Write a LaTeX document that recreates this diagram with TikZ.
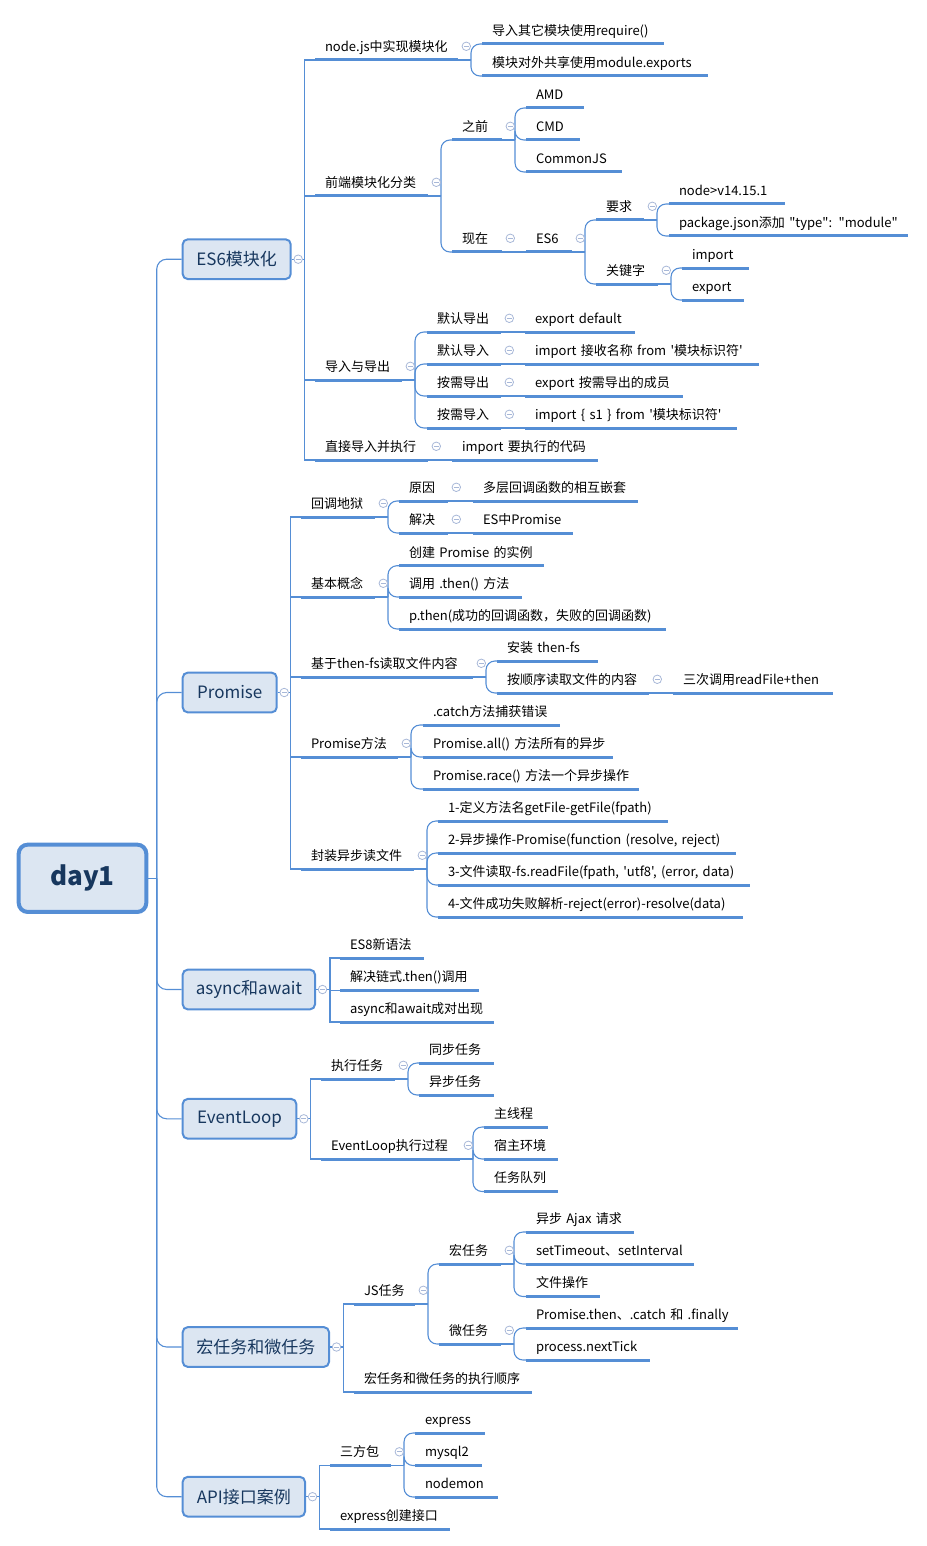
\documentclass[tikz,border=0pt]{standalone}
\usepackage{fontspec}
\setmainfont{Noto Sans CJK SC}[Ligatures=TeXOff]
\usepackage{tikz}
\definecolor{lineBlue}{RGB}{85,142,213}
\definecolor{boxFill}{RGB}{220,230,242}
\definecolor{boxText}{RGB}{23,55,94}
\definecolor{foldGray}{RGB}{168,184,216}

\begin{document}
\begin{tikzpicture}[
    x=1pt, y=-1pt,
    daybox/.style={
        rectangle,
        rounded corners=9pt,
        draw=lineBlue,
        line width=4pt,
        fill=boxFill,
        text=boxText,
        minimum width=127.6pt,
        minimum height=67.3pt,
        font=\fontsize{26}{30}\selectfont\bfseries
    },
    hub/.style={
        rectangle,
        rounded corners=5pt,
        draw=lineBlue,
        line width=2pt,
        fill=boxFill,
        text=boxText,
        anchor=west,
        minimum width=#1,
        minimum height=39.7pt,
        font=\fontsize{17}{20}\selectfont
    },
    tw/.code={\pgfmathsetmacro\topicwidth{#1-20}\tikzset{text width=\topicwidth pt}},
    topic/.style={
        anchor=south west,
        inner xsep=10pt,
        inner ysep=5pt,
        outer sep=0pt,
        text height=10pt,
        text depth=3.6pt,
        align=left,
        text=black,
        tw=#1,
        font=\fontsize{13}{15}\selectfont,
        execute at begin node={\hbox\bgroup},
        execute at end node={\egroup},
        append after command={(\tikzlastnode.south west) edge[uline] (\tikzlastnode.south east)}
    },
    uline/.style={draw=lineBlue, line width=3pt},
    wire/.style={draw=lineBlue, line width=1.1pt},
    twig/.style={wire, rounded corners=9pt},
    trunk/.style={wire, rounded corners=10pt},
    knob/.style={
        circle,
        draw=foldGray,
        fill=white,
        line width=0.8pt,
        minimum size=8.5pt,
        inner sep=0pt,
        path picture={\draw[foldGray, line width=0.8pt]
            ([xshift=-2.4pt]path picture bounding box.center) --
            ([xshift=2.4pt]path picture bounding box.center);}
    }
]
\useasboundingbox (0,0) rectangle (926,1546);

% root and main branches
\node[daybox] (day) at (82.5,878.3) {day1};
\node[hub=108pt] (es6) at (181.7,259.2) {ES6模块化};
\node[hub=94pt] (prom) at (181.7,692.5) {Promise};
\node[hub=132.3pt] (async) at (181.7,989.5) {async和await};
\node[hub=113.6pt] (loop) at (181.7,1118.8) {EventLoop};
\node[hub=146.3pt] (task) at (181.7,1347) {宏任务和微任务};
\node[hub=122.3pt] (api) at (181.7,1496.7) {API接口案例};

% ES6模块化
\node[topic=143] (n1) at (315,60) {node.js中实现模块化};
\node[topic=182] (n1a) at (482,44) {导入其它模块使用require()};
\node[topic=226] (n1b) at (482,76) {模块对外共享使用module.exports};
\node[topic=113] (n2) at (315,196) {前端模块化分类};
\node[topic=50] (n2a) at (452,140) {之前};
\node[topic=58] (n2a1) at (526,108) {AMD};
\node[topic=54] (n2a2) at (526,140) {CMD};
\node[topic=96] (n2a3) at (526,172) {CommonJS};
\node[topic=50] (n2b) at (452,252) {现在};
\node[topic=46] (n2b1) at (526,252) {ES6};
\node[topic=48] (need) at (596,220) {要求};
\node[topic=116] (need1) at (669,204) {node>v14.15.1};
\node[topic=239] (need2) at (669,236) {package.json添加 "type": "module"};
\node[topic=62] (kw) at (596,284) {关键字};
\node[topic=67] (kw1) at (682,268) {import};
\node[topic=62] (kw2) at (682,300) {export};
\node[topic=87] (n3) at (315,380) {导入与导出};
\node[topic=74] (n3a) at (427,332) {默认导出};
\node[topic=110] (n3a1) at (525,332) {export default};
\node[topic=74] (n3b) at (427,364) {默认导入};
\node[topic=234] (n3b1) at (525,364) {import 接收名称 from '模块标识符'};
\node[topic=74] (n3c) at (427,396) {按需导出};
\node[topic=158] (n3c1) at (525,396) {export 按需导出的成员};
\node[topic=74] (n3d) at (427,428) {按需导入};
\node[topic=212] (n3d1) at (525,428) {import \{ s1 \} from '模块标识符'};
\node[topic=113] (n4) at (315,460) {直接导入并执行};
\node[topic=146] (n4a) at (452,460) {import 要执行的代码};

% Promise
\node[topic=74] (p1) at (301,517) {回调地狱};
\node[topic=49] (p1a) at (399,501) {原因};
\node[topic=165] (p1a1) at (473,501) {多层回调函数的相互嵌套};
\node[topic=49] (p1b) at (399,533) {解决};
\node[topic=100] (p1b1) at (473,533) {ES中Promise};
\node[topic=74] (p2) at (301,597) {基本概念};
\node[topic=145] (p2a) at (399,565.7) {创建 Promise 的实例};
\node[topic=123] (p2b) at (399,597) {调用 .then() 方法};
\node[topic=267] (p2c) at (399,629) {p.then(成功的回调函数，失败的回调函数)};
\node[topic=172] (p3) at (301,677) {基于then-fs读取文件内容};
\node[topic=101] (p3a) at (497,661) {安装 then-fs};
\node[topic=152] (p3b) at (497,693) {按顺序读取文件的内容};
\node[topic=160] (p3b1) at (673,693) {三次调用readFile+then};
\node[topic=97] (p4) at (301,757) {Promise方法};
\node[topic=137] (p4a) at (423,725) {.catch方法捕获错误};
\node[topic=190] (p4b) at (423,757) {Promise.all() 方法所有的异步};
\node[topic=216] (p4c) at (423,789) {Promise.race() 方法一个异步操作};
\node[topic=113] (p5) at (301,869) {封装异步读文件};
\node[topic=230] (p5a) at (438,821) {1-定义方法名getFile-getFile(fpath)};
\node[topic=298] (p5b) at (438,853) {2-异步操作-Promise(function (resolve, reject)};
\node[topic=312] (p5c) at (438,885) {3-文件读取-fs.readFile(fpath, 'utf8', (error, data)};
\node[topic=305] (p5d) at (438,917) {4-文件成功失败解析-reject(error)-resolve(data)};

% async和await
\node[topic=84] (a1) at (340,958) {ES8新语法};
\node[topic=139] (a2) at (340,990.5) {解决链式.then()调用};
\node[topic=154] (a3) at (340,1022) {async和await成对出现};

% EventLoop
\node[topic=74] (e1) at (321,1079) {执行任务};
\node[topic=75] (e1a) at (419,1063) {同步任务};
\node[topic=75] (e1b) at (419,1095) {异步任务};
\node[topic=139] (e2) at (321,1159) {EventLoop执行过程};
\node[topic=64] (e2a) at (484,1127) {主线程};
\node[topic=74] (e2b) at (484,1159) {宿主环境};
\node[topic=74] (e2c) at (484,1191.5) {任务队列};

% 宏任务和微任务
\node[topic=61] (m1) at (354,1304) {JS任务};
\node[topic=62] (m1a) at (439,1264) {宏任务};
\node[topic=108] (m1a1) at (526,1232) {异步 Ajax 请求};
\node[topic=168] (m1a2) at (526,1264) {setTimeout、setInterval};
\node[topic=74] (m1a3) at (526,1296.5) {文件操作};
\node[topic=62] (m1b) at (439,1344) {微任务};
\node[topic=212] (m1b1) at (526,1328) {Promise.then、.catch 和 .finally};
\node[topic=124] (m1b2) at (526,1360) {process.nextTick};
\node[topic=178] (m2) at (354,1392) {宏任务和微任务的执行顺序};

% API接口案例
\node[topic=61] (i1) at (330,1465.5) {三方包};
\node[topic=70] (i1a) at (415,1433) {express};
\node[topic=67] (i1b) at (415,1465.5) {mysql2};
\node[topic=83] (i1c) at (415,1497) {nodemon};
\node[topic=120] (i2) at (330,1529) {express创建接口};

% root connectors
\coordinate (stem) at (156.7,878.3);
\draw[wire] (day.east) -- (stem);
\draw[trunk] (stem) |- (es6.west);
\draw[trunk] (stem) |- (prom.west);
\draw[trunk] (stem) |- (async.west);
\draw[trunk] (stem) |- (loop.west);
\draw[trunk] (stem) |- (task.west);
\draw[trunk] (stem) |- (api.west);

% ES6模块化 connectors
\draw[wire] (es6.east) -- ++(12.6,0) coordinate (es6-k);
\draw[wire] (es6-k) |- (n1.south west);
\draw[wire] (es6-k) |- (n2.south west);
\draw[wire] (es6-k) |- (n3.south west);
\draw[wire] (es6-k) |- (n4.south west);
\draw[wire] (n1.south east) -- ++(13,0) coordinate (n1-k);
\draw[twig] (n1-k) |- (n1a.south west);
\draw[twig] (n1-k) |- (n1b.south west);
\draw[wire] (n2.south east) -- ++(13,0) coordinate (n2-k);
\draw[twig] (n2-k) |- (n2a.south west);
\draw[twig] (n2-k) |- (n2b.south west);
\draw[wire] (n2a.south east) -- ++(13,0) coordinate (n2a-k);
\draw[twig] (n2a-k) |- (n2a1.south west);
\draw[twig] (n2a-k) |- (n2a2.south west);
\draw[twig] (n2a-k) |- (n2a3.south west);
\draw[wire] (n2b.south east) -- (n2b1.south west);
\draw[wire] (n2b1.south east) -- ++(13,0) coordinate (n2b1-k);
\draw[twig] (n2b1-k) |- (need.south west);
\draw[twig] (n2b1-k) |- (kw.south west);
\draw[wire] (need.south east) -- ++(13,0) coordinate (need-k);
\draw[twig] (need-k) |- (need1.south west);
\draw[twig] (need-k) |- (need2.south west);
\draw[wire] (kw.south east) -- ++(13,0) coordinate (kw-k);
\draw[twig] (kw-k) |- (kw1.south west);
\draw[twig] (kw-k) |- (kw2.south west);
\draw[wire] (n3.south east) -- ++(13,0) coordinate (n3-k);
\draw[twig] (n3-k) |- (n3a.south west);
\draw[twig] (n3-k) |- (n3b.south west);
\draw[twig] (n3-k) |- (n3c.south west);
\draw[twig] (n3-k) |- (n3d.south west);
\draw[wire] (n3a.south east) -- (n3a1.south west);
\draw[wire] (n3b.south east) -- (n3b1.south west);
\draw[wire] (n3c.south east) -- (n3c1.south west);
\draw[wire] (n3d.south east) -- (n3d1.south west);
\draw[wire] (n4.south east) -- (n4a.south west);

% Promise connectors
\draw[wire] (prom.east) -- ++(13,0) coordinate (prom-k);
\draw[wire] (prom-k) |- (p1.south west);
\draw[wire] (prom-k) |- (p2.south west);
\draw[wire] (prom-k) |- (p3.south west);
\draw[wire] (prom-k) |- (p4.south west);
\draw[wire] (prom-k) |- (p5.south west);
\draw[wire] (p1.south east) -- ++(13,0) coordinate (p1-k);
\draw[twig] (p1-k) |- (p1a.south west);
\draw[twig] (p1-k) |- (p1b.south west);
\draw[wire] (p1a.south east) -- (p1a1.south west);
\draw[wire] (p1b.south east) -- (p1b1.south west);
\draw[wire] (p2.south east) -- ++(13,0) coordinate (p2-k);
\draw[twig] (p2-k) |- (p2a.south west);
\draw[twig] (p2-k) |- (p2b.south west);
\draw[twig] (p2-k) |- (p2c.south west);
\draw[wire] (p3.south east) -- ++(13,0) coordinate (p3-k);
\draw[twig] (p3-k) |- (p3a.south west);
\draw[twig] (p3-k) |- (p3b.south west);
\draw[wire] (p3b.south east) -- (p3b1.south west);
\draw[wire] (p4.south east) -- ++(13,0) coordinate (p4-k);
\draw[twig] (p4-k) |- (p4a.south west);
\draw[twig] (p4-k) |- (p4b.south west);
\draw[twig] (p4-k) |- (p4c.south west);
\draw[wire] (p5.south east) -- ++(13,0) coordinate (p5-k);
\draw[twig] (p5-k) |- (p5a.south west);
\draw[twig] (p5-k) |- (p5b.south west);
\draw[twig] (p5-k) |- (p5c.south west);
\draw[twig] (p5-k) |- (p5d.south west);

% async和await connectors
\draw[wire] (async.east) -- ++(14,0) coordinate (async-k);
\draw[wire] (async-k) |- (a1.south west);
\draw[wire] (async-k) |- (a2.south west);
\draw[wire] (async-k) |- (a3.south west);

% EventLoop connectors
\draw[wire] (loop.east) -- ++(13.4,0) coordinate (loop-k);
\draw[wire] (loop-k) |- (e1.south west);
\draw[wire] (loop-k) |- (e2.south west);
\draw[wire] (e1.south east) -- ++(13,0) coordinate (e1-k);
\draw[twig] (e1-k) |- (e1a.south west);
\draw[twig] (e1-k) |- (e1b.south west);
\draw[wire] (e2.south east) -- ++(13,0) coordinate (e2-k);
\draw[twig] (e2-k) |- (e2a.south west);
\draw[twig] (e2-k) |- (e2b.south west);
\draw[twig] (e2-k) |- (e2c.south west);

% 宏任务和微任务 connectors
\draw[wire] (task.east) -- ++(13.3,0) coordinate (task-k);
\draw[wire] (task-k) |- (m1.south west);
\draw[wire] (task-k) |- (m2.south west);
\draw[wire] (m1.south east) -- ++(13,0) coordinate (m1-k);
\draw[twig] (m1-k) |- (m1a.south west);
\draw[twig] (m1-k) |- (m1b.south west);
\draw[wire] (m1a.south east) -- ++(13,0) coordinate (m1a-k);
\draw[twig] (m1a-k) |- (m1a1.south west);
\draw[twig] (m1a-k) |- (m1a2.south west);
\draw[twig] (m1a-k) |- (m1a3.south west);
\draw[wire] (m1b.south east) -- ++(13,0) coordinate (m1b-k);
\draw[twig] (m1b-k) |- (m1b1.south west);
\draw[twig] (m1b-k) |- (m1b2.south west);

% API接口案例 connectors
\draw[wire] (api.east) -- ++(13.3,0) coordinate (api-k);
\draw[wire] (api-k) |- (i1.south west);
\draw[wire] (api-k) |- (i2.south west);
\draw[wire] (i1.south east) -- ++(13,0) coordinate (i1-k);
\draw[twig] (i1-k) |- (i1a.south west);
\draw[twig] (i1-k) |- (i1b.south west);
\draw[twig] (i1-k) |- (i1c.south west);

% collapse marks
\node[knob] (es6-o) at ([xshift=6.5pt]es6.east) {};
\node[knob] (prom-o) at ([xshift=6.5pt]prom.east) {};
\node[knob] (async-o) at ([xshift=6.5pt]async.east) {};
\node[knob] (loop-o) at ([xshift=6.5pt]loop.east) {};
\node[knob] (task-o) at ([xshift=6.5pt]task.east) {};
\node[knob] (api-o) at ([xshift=6.5pt]api.east) {};
\node[knob] (n1-o) at ([shift={(8.3,-13.7)}]n1.south east) {};
\node[knob] (n2-o) at ([shift={(8.3,-13.7)}]n2.south east) {};
\node[knob] (n2a-o) at ([shift={(8.3,-13.7)}]n2a.south east) {};
\node[knob] (n2b-o) at ([shift={(8.3,-13.7)}]n2b.south east) {};
\node[knob] (n2b1-o) at ([shift={(8.3,-13.7)}]n2b1.south east) {};
\node[knob] (need-o) at ([shift={(8.3,-13.7)}]need.south east) {};
\node[knob] (kw-o) at ([shift={(8.3,-13.7)}]kw.south east) {};
\node[knob] (n3-o) at ([shift={(8.3,-13.7)}]n3.south east) {};
\node[knob] (n3a-o) at ([shift={(8.3,-13.7)}]n3a.south east) {};
\node[knob] (n3b-o) at ([shift={(8.3,-13.7)}]n3b.south east) {};
\node[knob] (n3c-o) at ([shift={(8.3,-13.7)}]n3c.south east) {};
\node[knob] (n3d-o) at ([shift={(8.3,-13.7)}]n3d.south east) {};
\node[knob] (n4-o) at ([shift={(8.3,-13.7)}]n4.south east) {};
\node[knob] (p1-o) at ([shift={(8.3,-13.7)}]p1.south east) {};
\node[knob] (p1a-o) at ([shift={(8.3,-13.7)}]p1a.south east) {};
\node[knob] (p1b-o) at ([shift={(8.3,-13.7)}]p1b.south east) {};
\node[knob] (p2-o) at ([shift={(8.3,-13.7)}]p2.south east) {};
\node[knob] (p3-o) at ([shift={(8.3,-13.7)}]p3.south east) {};
\node[knob] (p3b-o) at ([shift={(8.3,-13.7)}]p3b.south east) {};
\node[knob] (p4-o) at ([shift={(8.3,-13.7)}]p4.south east) {};
\node[knob] (p5-o) at ([shift={(8.3,-13.7)}]p5.south east) {};
\node[knob] (e1-o) at ([shift={(8.3,-13.7)}]e1.south east) {};
\node[knob] (e2-o) at ([shift={(8.3,-13.7)}]e2.south east) {};
\node[knob] (m1-o) at ([shift={(8.3,-13.7)}]m1.south east) {};
\node[knob] (m1a-o) at ([shift={(8.3,-13.7)}]m1a.south east) {};
\node[knob] (m1b-o) at ([shift={(8.3,-13.7)}]m1b.south east) {};
\node[knob] (i1-o) at ([shift={(8.3,-13.7)}]i1.south east) {};

\end{tikzpicture}
\end{document}
